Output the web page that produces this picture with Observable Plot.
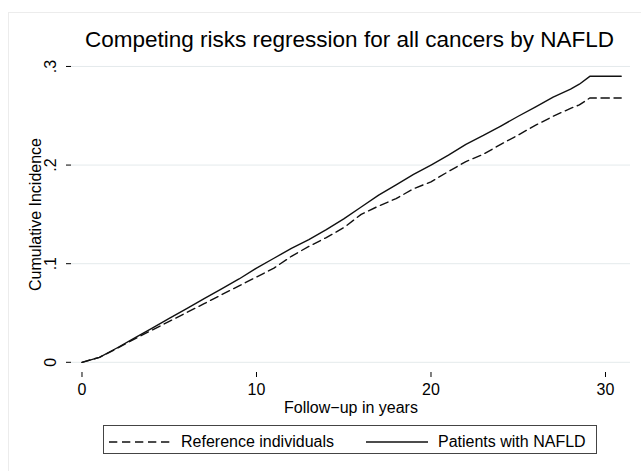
<!DOCTYPE html>
<html>
<head>
<meta charset="utf-8">
<script src="https://cdn.jsdelivr.net/npm/d3@7"></script>
<script src="https://cdn.jsdelivr.net/npm/@observablehq/plot@0.6"></script>
<style>
  body { margin: 0; background: #fff; }
  #wrap { position: relative; width: 641px; height: 471px; overflow: hidden; background: #fff;
          font-family: "Liberation Sans", Arial, Helvetica, sans-serif; color: #000; }
  #border { position: absolute; left: 8px; top: 12px; width: 720px; height: 540px;
            border: 1px solid #ececec; box-sizing: border-box; }
  #chart { position: absolute; left: 0; top: 0; }
  #title { position: absolute; left: 0; width: 699px; top: 29px; text-align: center;
           font-size: 22.5px; line-height: 22px; white-space: nowrap; }
  #legend { position: absolute; left: 103px; top: 425px; width: 494px; height: 29px;
            border: 1px solid #444; box-sizing: border-box; font-size: 16px; }
  .item { position: absolute; top: 2px; height: 27px; display: flex; align-items: center; white-space: nowrap; }
  .item svg { margin-right: 10px; }
</style>
</head>
<body>
<div id="wrap">
  <div id="border"></div>
  <div id="chart"></div>
  <div id="title"></div>
  <div id="legend"></div>
</div>
<script>
// ---- data ----
const years     = [0, 1, 2, 3, 4, 5, 6, 7, 8, 9, 10, 11, 12, 13, 14, 15, 16, 17, 18, 19, 20, 21, 22, 23, 24, 25, 26, 27, 28, 28.5, 29.1, 30.9];
const nafld     = [0, 0.005, 0.0145, 0.0245, 0.0345, 0.0445, 0.0545, 0.0645, 0.0745, 0.0845, 0.0955, 0.1055, 0.1155, 0.1245, 0.1345, 0.1455, 0.1575, 0.1695, 0.1800, 0.1905, 0.2000, 0.2100, 0.2210, 0.2300, 0.2395, 0.2495, 0.2590, 0.2690, 0.2770, 0.2820, 0.2900, 0.2900];
const reference = [0, 0.005, 0.014, 0.0235, 0.0325, 0.0415, 0.0505, 0.0595, 0.0685, 0.0775, 0.0865, 0.0955, 0.1075, 0.1175, 0.1265, 0.1365, 0.1500, 0.1585, 0.1660, 0.1760, 0.1830, 0.1935, 0.2035, 0.2110, 0.2210, 0.2305, 0.2405, 0.2495, 0.2575, 0.2610, 0.2680, 0.2680];
const groups    = ["Reference individuals", "Patients with NAFLD"];
const xTicks    = [0, 10, 20, 30];
const yTicks    = [0, 0.1, 0.2, 0.3];
const yTickLabels = ["0", ".1", ".2", ".3"];
const title     = "Competing risks regression for all cancers by NAFLD";
const xLabel    = "Follow\u2212up in years";
const yLabel    = "Cumulative Incidence";

const dashes = "8.3,4.7";
const refRows = years.map((t, i) => ({t, v: reference[i], g: groups[0]}));
const nafRows = years.map((t, i) => ({t, v: nafld[i], g: groups[1]}));

const plot = Plot.plot({
  width: 641,
  height: 471,
  marginLeft: 71,
  marginRight: 11,
  marginTop: 56,
  marginBottom: 99,
  style: {fontFamily: '"Liberation Sans", Arial, Helvetica, sans-serif', fontSize: "16px", color: "#000", background: "transparent", overflow: "visible"},
  x: {domain: [-0.6017, 31.433]},
  y: {domain: [-0.01034, 0.3101]},
  marks: [
    Plot.gridY(yTicks, {stroke: "#e4eaec", strokeOpacity: 1, strokeWidth: 1}),
    Plot.axisX({ticks: xTicks, tickSize: 5, tickPadding: 6, line: true, stroke: "#000",
                label: xLabel, labelAnchor: "center", labelArrow: "none", labelOffset: 40.5, fontSize: 16}),
    Plot.axisY({ticks: yTicks, tickFormat: (d) => yTickLabels[yTicks.indexOf(d)] ?? "", tickSize: 5, tickPadding: 10.5,
                tickRotate: -90, line: true, stroke: "#000",
                label: yLabel, labelAnchor: "center", labelArrow: "none", labelOffset: 41.5, fontSize: 16}),
    Plot.line(refRows, {x: "t", y: "v", stroke: "#111", strokeWidth: 1.4, strokeDasharray: dashes}),
    Plot.line(nafRows, {x: "t", y: "v", stroke: "#111", strokeWidth: 1.4})
  ]
});
document.getElementById("chart").appendChild(plot);
document.getElementById("title").textContent = title;

// legend
const legend = document.getElementById("legend");
const items = [
  {label: groups[0], dash: dashes, left: 5},
  {label: groups[1], dash: null, left: 262}
];
for (const it of items) {
  const div = document.createElement("div");
  div.className = "item";
  div.style.left = it.left + "px";
  const svg = d3.create("svg").attr("width", 62).attr("height", 10);
  svg.append("line").attr("x1", 0).attr("x2", 62).attr("y1", 5).attr("y2", 5)
    .attr("stroke", "#111").attr("stroke-width", 1.4)
    .attr("stroke-dasharray", it.dash);
  div.appendChild(svg.node());
  const span = document.createElement("span");
  span.textContent = it.label;
  div.appendChild(span);
  legend.appendChild(div);
}
</script>
</body>
</html>
